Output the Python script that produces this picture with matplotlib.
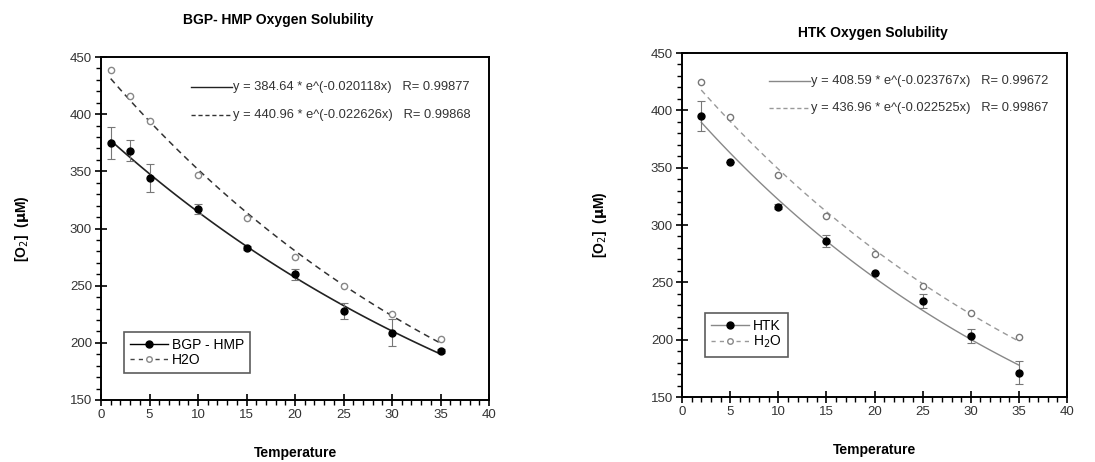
import numpy as np
import matplotlib
matplotlib.use("Agg")
import matplotlib.pyplot as plt
from matplotlib.ticker import MultipleLocator

plt.rcParams['font.family'] = ['Liberation Sans', 'DejaVu Sans']

# left panel: BGP-HMP vs water
temp_bgp = [1, 3, 5, 10, 15, 20, 25, 30, 35]
o2_bgp = [375, 368, 344, 317, 283, 260, 228, 209, 193]
err_bgp = [14, 9, 12, 4, 2, 5, 7, 12, 2]
o2_h2o_l = [439, 416, 394, 347, 309, 275, 250, 225, 203]
fit_bgp = (384.64, 0.020118, 0.99877)
fit_h2o_l = (440.96, 0.022626, 0.99868)

# right panel: HTK vs water
temp_htk = [2, 5, 10, 15, 20, 25, 30, 35]
o2_htk = [395, 355, 316, 286, 258, 234, 203, 171]
err_htk = [13, 0, 2, 5, 0, 6, 6, 10]
o2_h2o_r = [425, 394, 344, 308, 275, 247, 223, 202]
fit_htk = (408.59, 0.023767, 0.99672)
fit_h2o_r = (436.96, 0.022525, 0.99867)

fig = plt.figure(figsize=(10.95, 4.62), dpi=100)
W, H = 1095, 462


def frame(ax, ypad):
    ax.set_xlim(0, 40)
    ax.set_ylim(150, 450)
    ax.xaxis.set_major_locator(MultipleLocator(5))
    ax.xaxis.set_minor_locator(MultipleLocator(1))
    ax.yaxis.set_major_locator(MultipleLocator(50))
    ax.yaxis.set_minor_locator(MultipleLocator(10))
    ax.tick_params(which='major', direction='inout', length=9, width=1.2,
                   labelsize=9.5, labelcolor='#333333', pad=2)
    ax.tick_params(which='minor', direction='out', length=3.5, width=1)
    for s in ax.spines.values():
        s.set_linewidth(1.4)
    ax.set_xlabel('Temperature', fontsize=10, fontweight='bold', labelpad=18)
    ax.set_ylabel(r'[O$_2$]  ($\mathbf{\mu}$M)', fontsize=10,
                  fontweight='bold', labelpad=ypad)


def fit_text(ax, fit, x0, y, ls, color):
    a, b, r = fit
    ax.plot([x0, x0 + 0.106], [y, y], transform=ax.transAxes, color=color,
            ls=ls, lw=1)
    ax.text(x0 + 0.108, y, 'y = %.2f * e^(-%.6fx)   R= %.5f' % (a, b, r),
            transform=ax.transAxes, va='center', ha='left', fontsize=9.3,
            color='#333333')


def make_legend(ax, handles, labels, x, y):
    leg = ax.legend(handles, labels, loc='upper left', bbox_to_anchor=(x, y),
                    borderaxespad=0, fontsize=10, frameon=True,
                    fancybox=False, edgecolor='#333333', handlelength=2.7,
                    handletextpad=0.3, borderpad=0.45, labelspacing=0.05)
    leg.get_frame().set_linewidth(1.2)


# ---- left
ax1 = fig.add_axes([101 / W, 1 - 400 / H, 388 / W, 343 / H])
frame(ax1, 28)
xs = np.linspace(temp_bgp[0], temp_bgp[-1], 100)
ax1.plot(xs, fit_bgp[0] * np.exp(-fit_bgp[1] * xs), color='#222222', lw=1.2)
ax1.plot(xs, fit_h2o_l[0] * np.exp(-fit_h2o_l[1] * xs), color='#333333',
         lw=1.1, ls=(0, (4, 3)))
ax1.errorbar(temp_bgp, o2_bgp, yerr=err_bgp, fmt='o', color='black',
             ms=5, ecolor='#777777', elinewidth=0.8, capsize=3, capthick=0.8,
             zorder=3)
ax1.plot(temp_bgp, o2_h2o_l, 'o', mfc='white', mec='#888888', ms=4.5, mew=1,
         zorder=3)
h1, = ax1.plot([], [], '-o', color='black', ms=5, lw=1)
h2, = ax1.plot([], [], 'o', ls=(0, (3, 3)), color='#444444', mfc='white',
               mec='#888888', ms=4, lw=1)
make_legend(ax1, [h1, h2], ['BGP - HMP', 'H2O'], 0.059, 0.198)
fit_text(ax1, fit_bgp, 0.232, 0.913, '-', '#222222')
fit_text(ax1, fit_h2o_l, 0.232, 0.831, (0, (3, 2)), '#333333')
fig.text(278 / W, 1 - 20 / H, 'BGP- HMP Oxygen Solubility', ha='center',
         va='center', fontsize=10, fontweight='bold')

# ---- right
ax2 = fig.add_axes([682 / W, 1 - 397 / H, 385 / W, 344 / H])
frame(ax2, 30)
xs = np.linspace(temp_htk[0], temp_htk[-1], 100)
ax2.plot(xs, fit_htk[0] * np.exp(-fit_htk[1] * xs), color='#888888', lw=1)
ax2.plot(xs, fit_h2o_r[0] * np.exp(-fit_h2o_r[1] * xs), color='#999999',
         lw=1, ls=(0, (4, 3)))
ax2.errorbar(temp_htk, o2_htk, yerr=err_htk, fmt='o', color='black',
             ms=5, ecolor='#777777', elinewidth=0.8, capsize=3, capthick=0.8,
             zorder=3)
ax2.plot(temp_htk, o2_h2o_r, 'o', mfc='white', mec='#777777', ms=4.5, mew=1,
         zorder=3)
h1, = ax2.plot([], [], '-o', color='#888888', mfc='black', mec='black',
               ms=5, lw=1)
h2, = ax2.plot([], [], 'o', ls=(0, (3, 3)), color='#999999', mfc='white',
               mec='#888888', ms=4, lw=1)
make_legend(ax2, [h1, h2], ['HTK', r'H$_2$O'], 0.06, 0.244)
fit_text(ax2, fit_htk, 0.226, 0.919, '-', '#888888')
fit_text(ax2, fit_h2o_r, 0.226, 0.84, (0, (3, 2)), '#999999')
fig.text(873 / W, 1 - 33 / H, 'HTK Oxygen Solubility', ha='center',
         va='center', fontsize=10, fontweight='bold')

fig.savefig('out.png', dpi=100)
